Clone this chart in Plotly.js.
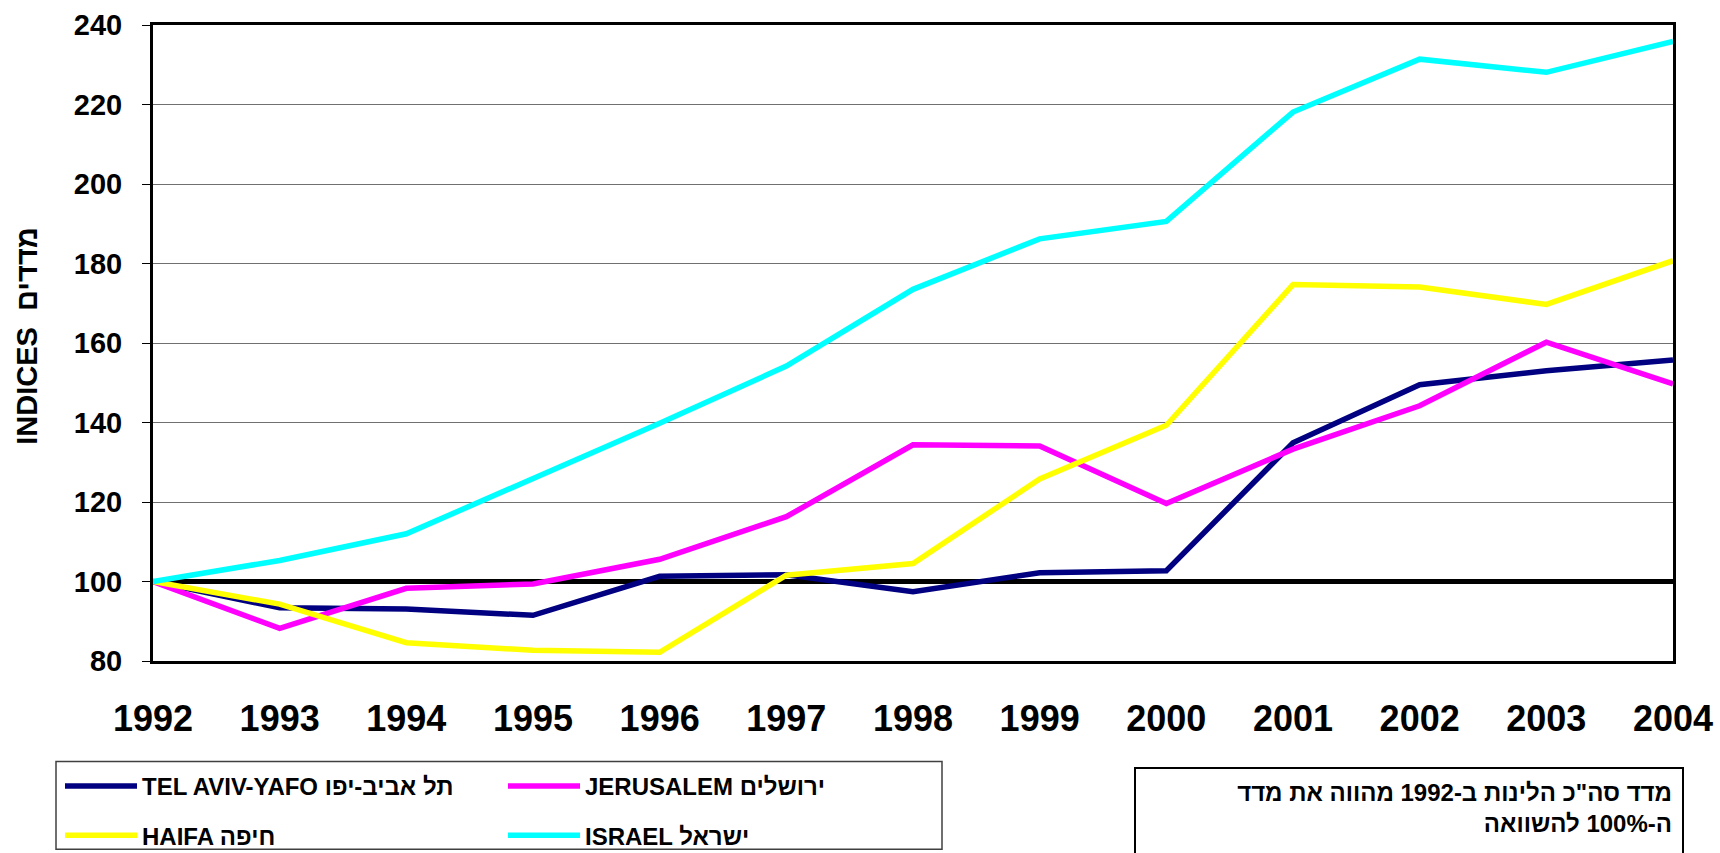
<!DOCTYPE html>
<html>
<head>
<meta charset="utf-8">
<script src="https://cdn.plot.ly/plotly-3.0.1.min.js"></script>
<style>
html,body{margin:0;padding:0;background:#ffffff;}
#chart{width:1720px;height:853px;}
</style>
</head>
<body>
<div id="chart"></div>
<script>
// ---- data ----
const years = [1992, 1993, 1994, 1995, 1996, 1997, 1998, 1999, 2000, 2001, 2002, 2003, 2004];
const telAviv   = [100, 93.4, 93.1, 91.5, 101.3, 101.7, 97.4, 102.2, 102.7, 134.9, 149.5, 153.0, 155.7];
const jerusalem = [100, 88.2, 98.3, 99.4, 105.6, 116.3, 134.4, 134.1, 119.6, 133.3, 144.2, 160.2, 149.7];
const haifa     = [100, 94.3, 84.6, 82.7, 82.2, 101.6, 104.5, 125.8, 139.3, 174.7, 174.1, 169.7, 180.7];
const israel    = [100, 105.3, 112.0, 125.8, 139.8, 154.2, 173.5, 186.2, 190.6, 218.1, 231.4, 228.1, 235.9];
const seriesNames = ['TEL AVIV-YAFO תל אביב-יפו', 'JERUSALEM ירושלים', 'HAIFA חיפה', 'ISRAEL ישראל'];
const baseIndex = 100;
const yTitle = '<b>INDICES\u00A0\u00A0מדדים</b>';
const noteText = '<b>מדד סה"כ הלינות ב-1992 מהווה את מדד</b><br><b>ה-100% להשוואה</b>';

const FONT = 'Liberation Sans, Arial, DejaVu Sans, sans-serif';

function line(y, name, color, legendId, group) {
  return {
    type: 'scatter', mode: 'lines', x: years, y: y, name: name,
    line: {color: color, width: 5.5},
    legend: legendId, legendgroup: group, hoverinfo: 'x+y'
  };
}

const baseline = {
  type: 'scatter', mode: 'lines',
  x: [years[0], years[years.length - 1]], y: [baseIndex, baseIndex],
  line: {color: '#000', width: 5}, showlegend: false, hoverinfo: 'skip'
};

const traces = [
  baseline,
  line(telAviv, seriesNames[0], '#000080', 'legend', 'g1'),
  line(jerusalem, seriesNames[1], '#FF00FF', 'legend2', 'g2'),
  line(haifa, seriesNames[2], '#FFFF00', 'legend', 'g3'),
  line(israel, seriesNames[3], '#00FFFF', 'legend2', 'g4')
];

const legendCommon = {
  xref: 'container', yref: 'container',
  xanchor: 'left', yanchor: 'top',
  orientation: 'v', traceorder: 'grouped', tracegroupgap: 15,
  bgcolor: 'rgba(0,0,0,0)', borderwidth: 0, itemwidth: 72,
  font: {family: FONT, size: 24, weight: 'bold', color: '#000'}
};

const layout = {
  width: 1720, height: 853,
  margin: {l: 153, r: 47, t: 25, b: 192, autoexpand: false},
  paper_bgcolor: '#ffffff', plot_bgcolor: '#ffffff',
  showlegend: true,
  font: {family: FONT, color: '#000'},
  xaxis: {
    range: [1992, 2004], dtick: 1, tick0: 1992, tickangle: 0,
    showgrid: false, zeroline: false, automargin: false,
    showline: true, linecolor: '#000', linewidth: 3, mirror: true,
    ticks: '', ticklabelstandoff: 24,
    tickfont: {family: FONT, size: 36, weight: 'bold', color: '#000'}
  },
  yaxis: {
    range: [80, 240], dtick: 20, tick0: 80, automargin: false,
    showgrid: true, gridcolor: '#707070', gridwidth: 1,
    zeroline: false,
    showline: true, linecolor: '#000', linewidth: 3, mirror: true,
    ticks: 'outside', ticklen: 8, tickcolor: '#000', tickwidth: 1,
    ticklabelstandoff: 14,
    tickfont: {family: FONT, size: 29, weight: 'bold', color: '#000'}
  },
  legend: Object.assign({}, legendCommon, {x: 60 / 1720, y: 1 - 764 / 853}),
  legend2: Object.assign({}, legendCommon, {x: 503 / 1720, y: 1 - 764 / 853}),
  shapes: [
    {type: 'rect', xref: 'paper', yref: 'paper',
     x0: (56 - 153) / 1520, x1: (942 - 153) / 1520,
     y0: (661.5 - 850) / 636.5, y1: (661.5 - 762) / 636.5,
     line: {color: '#404040', width: 1.5}, fillcolor: 'rgba(0,0,0,0)'}
  ],
  annotations: [
    {xref: 'paper', yref: 'paper', x: (27 - 153) / 1520, y: (661.5 - 336) / 636.5,
     xanchor: 'center', yanchor: 'middle', showarrow: false, textangle: -90,
     text: yTitle,
     font: {family: FONT, size: 29, color: '#000'}},
    {xref: 'paper', yref: 'paper', x: (1684 - 153) / 1520, y: (661.5 - 768) / 636.5,
     xanchor: 'right', yanchor: 'top', showarrow: false,
     text: noteText, align: 'right', valign: 'top',
     width: 526, height: 100, borderpad: 10,
     bordercolor: '#000', borderwidth: 2, bgcolor: '#ffffff',
     font: {family: FONT, size: 24, color: '#000'}}
  ]
};

Plotly.newPlot('chart', traces, layout, {displayModeBar: false, staticPlot: true});
</script>
</body>
</html>
